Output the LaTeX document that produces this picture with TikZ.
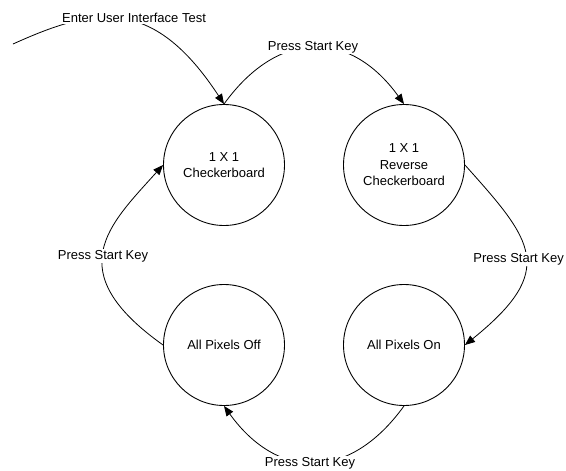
\documentclass[tikz,border=0pt]{standalone}
\usepackage{fontspec}
\setmainfont{Liberation Sans}
\usetikzlibrary{arrows.meta}
\begin{document}
\begin{tikzpicture}[x=1pt,y=-1pt,
  txt/.style={font=\fontsize{13}{16.5}\selectfont},
  state/.style={circle,draw=black,line width=0.9pt,minimum size=121pt,inner sep=0pt,align=center,txt},
  lab/.style={fill=white,inner sep=1pt,txt},
  conn/.style={line width=0.8pt,-{Triangle[length=10pt,width=8pt]}}]
\clip (0,0) rectangle (566,471);
\fill[white] (0,0) rectangle (566,471);
\node[state] (c1) at (224,165) {1 X 1\\Checkerboard};
\node[state] (c2) at (404,165) {1 X 1\\Reverse\\Checkerboard};
\node[state] (c3) at (224,345) {All Pixels Off};
\node[state] (c4) at (404,345) {All Pixels On};
\coordinate (s0) at (13,44);
\draw[conn] (s0) .. controls (93,8) and (152,-6) .. (c1.north);
\draw[conn] (c1.north) .. controls (278,29) and (350,29) .. (c2.north);
\draw[conn] (c2.east) .. controls (533,241) and (558,270) .. (c4.east);
\draw[conn] (c4.south) .. controls (350,481) and (278,481) .. (c3.south);
\draw[conn] (c3.west) .. controls (59,271) and (109,225) .. (c1.west);
\node[lab,anchor=base] (l0) at (134,23) {Enter User Interface Test};
\node[lab,anchor=base] (l1) at (313,50) {Press Start Key};
\node[lab,anchor=base east] (l2) at (565,262) {Press Start Key};
\node[lab,anchor=base] (l3) at (310,466.5) {Press Start Key};
\node[lab,anchor=base] (l4) at (103,259) {Press Start Key};
\end{tikzpicture}
\end{document}
